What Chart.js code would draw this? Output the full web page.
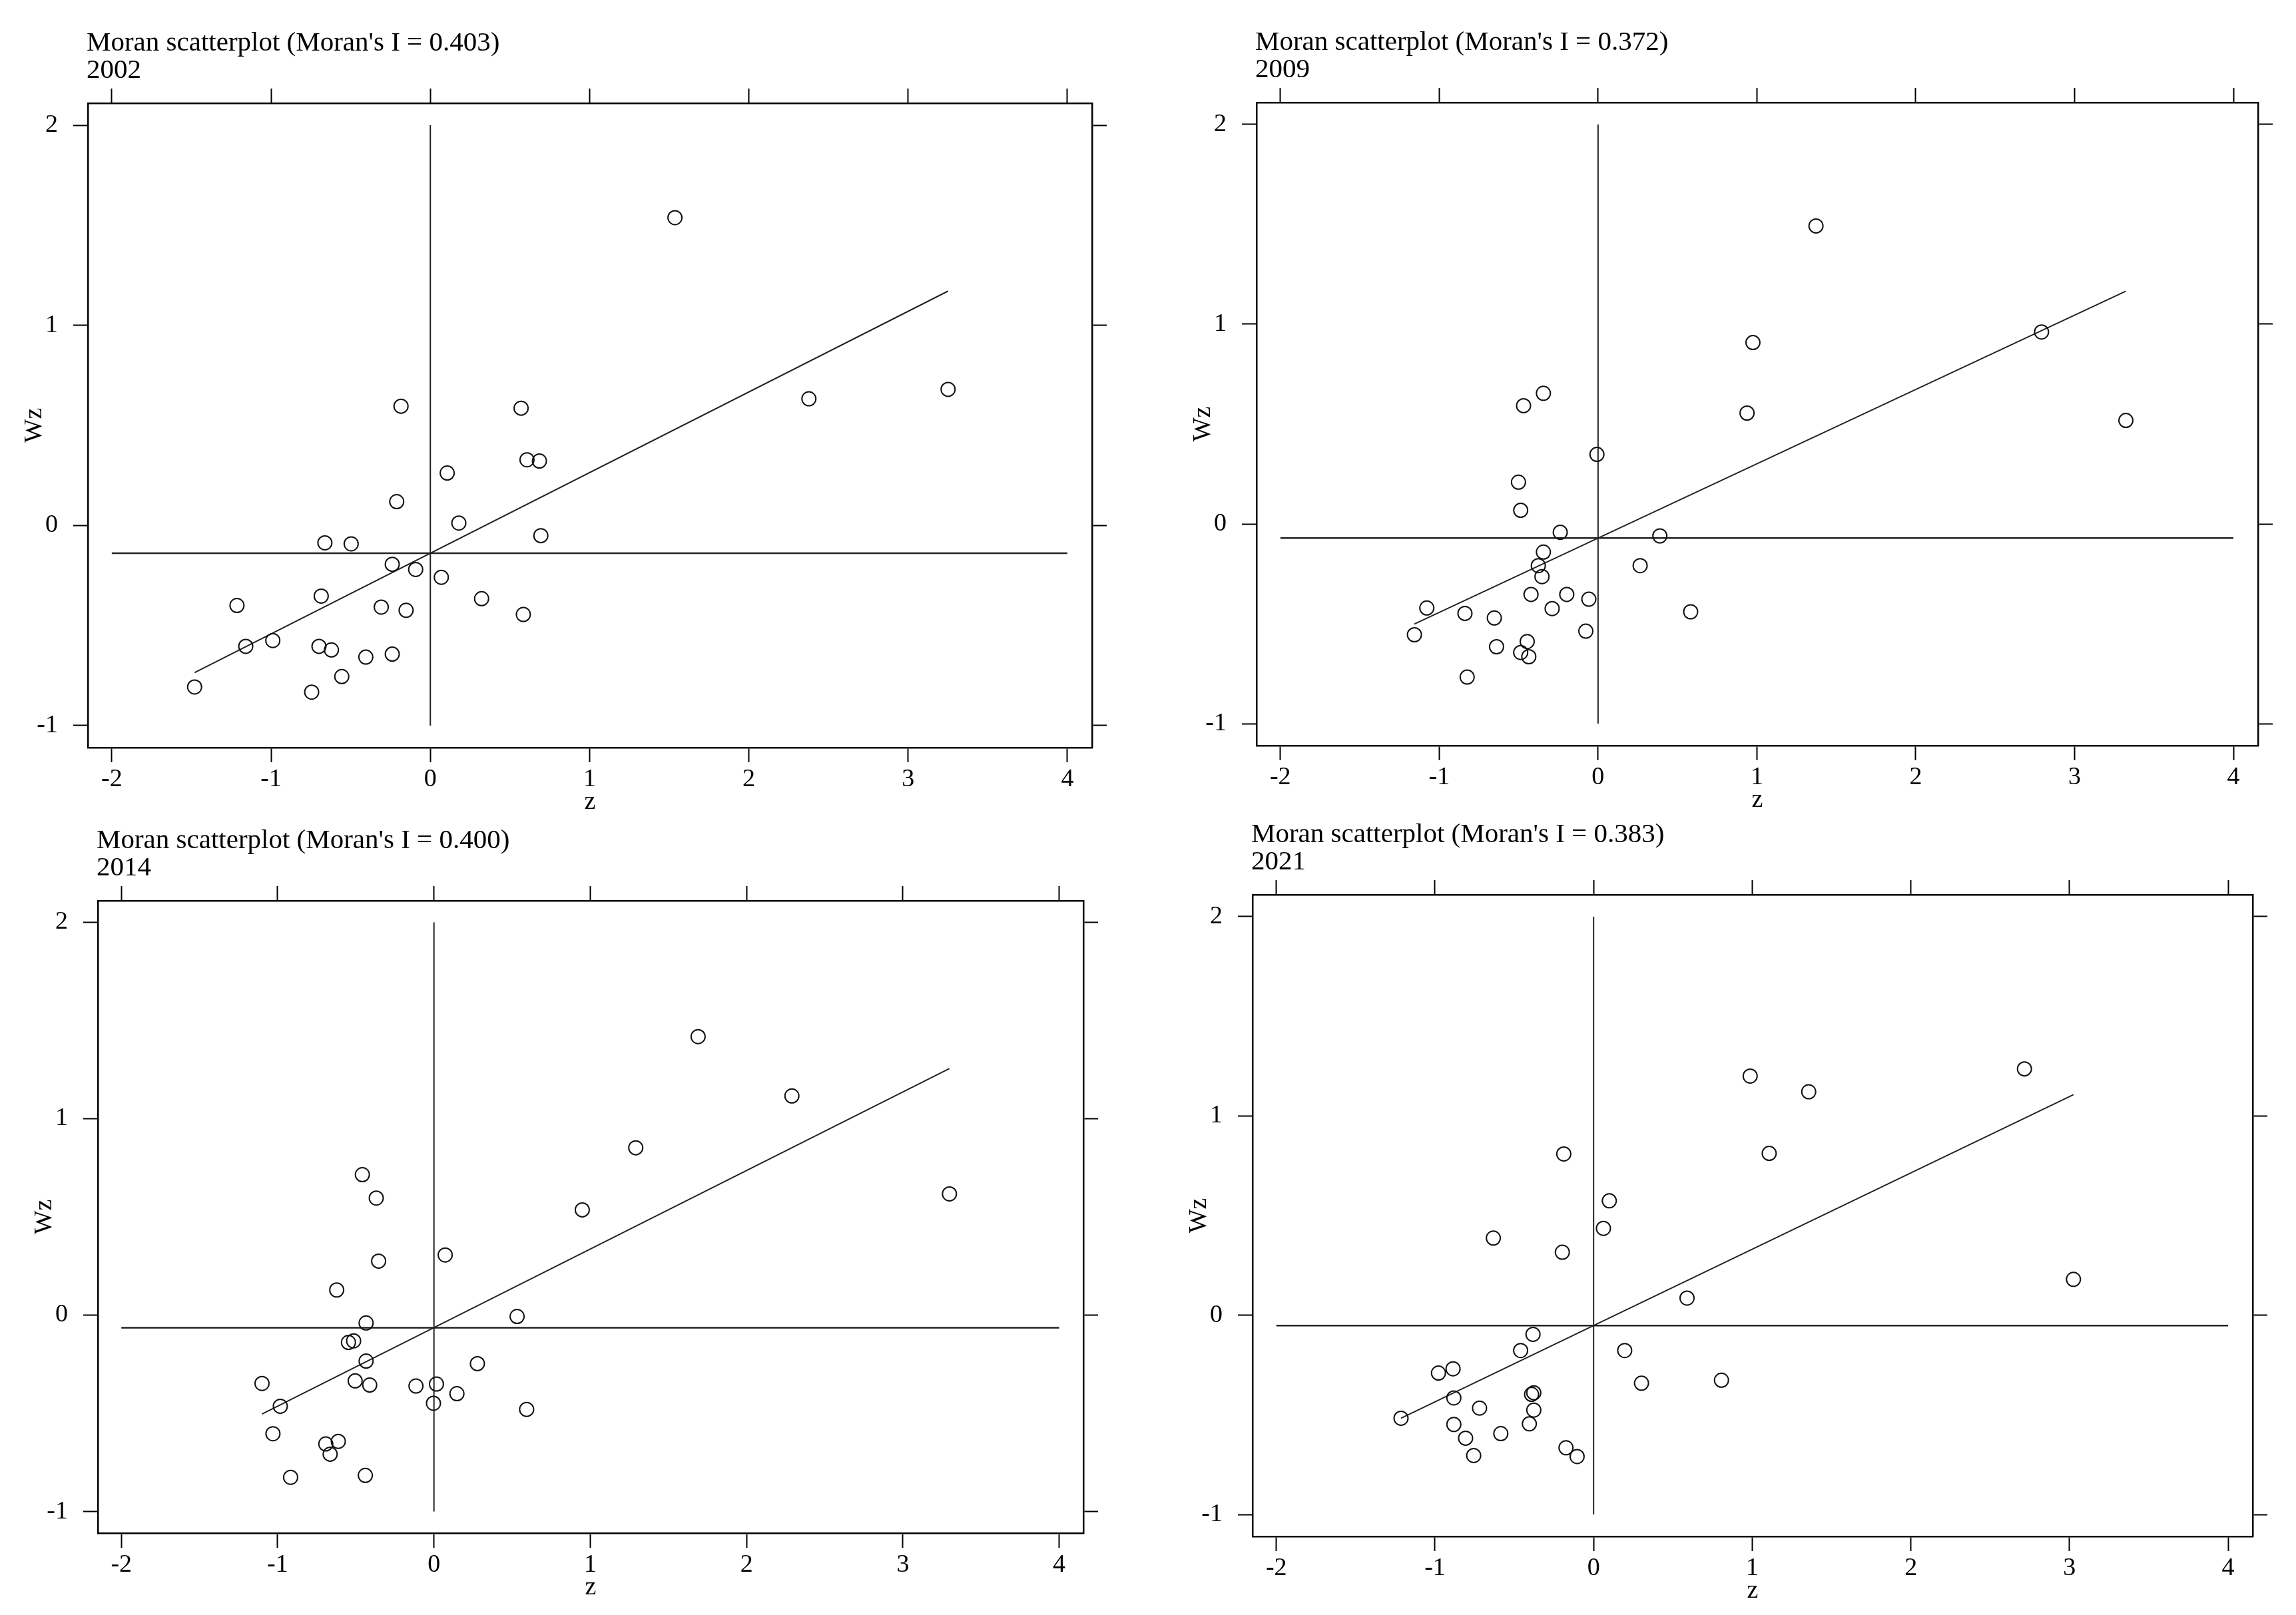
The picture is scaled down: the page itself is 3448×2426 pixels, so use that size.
<!DOCTYPE html>
<html>
<head>
<meta charset="utf-8">
<title>Moran scatterplot</title>
<script src="https://cdn.jsdelivr.net/npm/chart.js@4.4.1/dist/chart.umd.min.js"></script>
<style>
    html, body { margin: 0; padding: 0; background: #fff; overflow: hidden; }
    body { width: 3448px; height: 2426px; position: relative; }
    canvas { position: absolute; }
</style>
</head>
<body>
<script>
// Годы и индекс Морана
const years = ['2002', '2009', '2014', '2021'];
const moranI = [0.403, 0.372, 0.400, 0.383];
const meanWz = [-0.139, -0.071, -0.064, -0.052];

// Деления осей
const xTicks = [-2, -1, 0, 1, 2, 3, 4];
const yTicks = [-1, 0, 1, 2];

// 2002
const z2002 = [1.536, -0.184, 0.570, 2.377, 3.251, 0.607, 0.685, 0.106, -0.211, 0.179, 0.694,
    -0.662, -0.497, -0.239, -0.092, 0.069, -0.685, 0.322, -1.214, -0.308, -0.152, 0.584,
    -0.989, -1.159, -0.699, -0.621, -0.239, -0.405, -0.556, -1.480, -0.745];
const wz2002 = [1.538, 0.596, 0.586, 0.633, 0.680, 0.328, 0.322, 0.262, 0.119, 0.012, -0.051,
    -0.087, -0.092, -0.194, -0.220, -0.259, -0.353, -0.366, -0.400, -0.408, -0.424, -0.445,
    -0.575, -0.604, -0.604, -0.622, -0.643, -0.658, -0.755, -0.807, -0.833];

// 2009
const z2009 = [1.372, 2.792, 0.975, -0.344, -0.469, 0.938, 3.323, -0.007, -0.501, -0.487, -0.238,
    0.389, -0.344, -0.376, 0.265, -0.353, -0.422, -0.197, -0.058, -1.078, -0.289, 0.583,
    -0.838, -0.653, -0.077, -1.156, -0.446, -0.639, -0.487, -0.436, -0.824];
const wz2009 = [1.492, 0.961, 0.908, 0.654, 0.592, 0.555, 0.518, 0.348, 0.209, 0.068, -0.042,
    -0.060, -0.141, -0.209, -0.209, -0.264, -0.353, -0.353, -0.377, -0.421, -0.424, -0.440,
    -0.448, -0.471, -0.537, -0.555, -0.589, -0.615, -0.644, -0.665, -0.767];

// 2014
const z2014 = [1.690, 2.290, 1.291, -0.458, -0.369, 3.298, 0.949, 0.072, -0.354, -0.622, 0.532,
    -0.434, -0.547, -0.514, -0.434, 0.278, -1.100, -0.504, -0.411, -0.115, 0.016, 0.147,
    -0.983, -0.003, 0.593, -1.030, -0.612, -0.692, -0.664, -0.917, -0.439];
const wz2014 = [1.418, 1.116, 0.852, 0.715, 0.596, 0.617, 0.536, 0.306, 0.275, 0.128, -0.007,
    -0.040, -0.139, -0.131, -0.234, -0.247, -0.348, -0.335, -0.356, -0.361, -0.351, -0.400,
    -0.464, -0.449, -0.480, -0.604, -0.643, -0.656, -0.708, -0.826, -0.816];

// 2021
const z2021 = [2.716, 0.987, 1.356, -0.188, 1.107, 0.099, 0.062, -0.632, -0.197, 3.025, 0.589,
    -0.382, -0.460, 0.196, -0.886, -0.978, 0.806, 0.302, -0.881, -0.391, -0.377, -0.719,
    -0.377, -1.214, -0.881, -0.405, -0.585, -0.807, -0.174, -0.756, -0.104];
const wz2021 = [1.236, 1.200, 1.121, 0.809, 0.812, 0.574, 0.436, 0.387, 0.316, 0.180, 0.086,
    -0.096, -0.177, -0.177, -0.269, -0.290, -0.326, -0.341, -0.415, -0.397, -0.389, -0.466,
    -0.476, -0.517, -0.548, -0.545, -0.594, -0.617, -0.665, -0.704, -0.709];

// Положение рамок графиков на странице
const boxes = [
    { left: 132, top: 155, right: 1640, bottom: 1123 },
    { left: 1887, top: 154, right: 3391, bottom: 1120 },
    { left: 147, top: 1353, right: 1627, bottom: 2303 },
    { left: 1881, top: 1344, right: 3383, bottom: 2308 },
];

const serif = '"Liberation Serif", "DejaVu Serif", serif';
const ink = '#000';

// Заголовок над рамкой
const titlePlugin = {
    id: 'panelTitle',
    afterDraw(chart, args, opts) {
        const { ctx, chartArea } = chart;
        ctx.save();
        ctx.fillStyle = ink;
        ctx.font = `41px ${serif}`;
        ctx.textAlign = 'left';
        ctx.textBaseline = 'alphabetic';
        ctx.fillText(opts.lines[0], chartArea.left - 2, chartArea.top - 79);
        ctx.fillText(opts.lines[1], chartArea.left - 2, chartArea.top - 38);
        ctx.restore();
    }
};

function setTicks(list) {
    return (scale) => { scale.ticks = list.map(v => ({ value: v })); };
}

// Формирование одного графика
function renderPanel(i, z, wz) {
    const box = boxes[i];
    const w = box.right - box.left + 132 + 50;
    const h = box.bottom - box.top + 155 + 107;
    const canvas = document.createElement('canvas');
    canvas.width = w;
    canvas.height = h;
    canvas.style.left = `${box.left - 132}px`;
    canvas.style.top = `${box.top - 155}px`;
    canvas.style.width = `${w}px`;
    canvas.style.height = `${h}px`;
    document.body.appendChild(canvas);

    const points = z.map((v, k) => ({ x: v, y: wz[k] }));
    const zMin = Math.min(...z);
    const zMax = Math.max(...z);
    const fit = [zMin, zMax].map(v => ({ x: v, y: meanWz[i] + moranI[i] * v }));
    const hLine = [xTicks[0], xTicks[xTicks.length - 1]].map(v => ({ x: v, y: meanWz[i] }));
    const vLine = [yTicks[0], yTicks[yTicks.length - 1]].map(v => ({ x: 0, y: v }));

    const xMin = -2.15, xMax = 4.155, yMin = -1.11, yMax = 2.11;
    const grid = { drawOnChartArea: false, drawTicks: true, tickLength: 22, tickWidth: 2, tickColor: ink };
    const border = { display: true, color: ink, width: 2.5 };
    const tickFont = { family: serif, size: 38 };

    new Chart(canvas.getContext('2d'), {
        type: 'scatter',
        data: {
            datasets: [
                {
                    label: 'Wz',
                    data: points,
                    pointRadius: 10.5,
                    pointBorderWidth: 2,
                    pointBackgroundColor: 'rgba(0,0,0,0)',
                    pointBorderColor: '#111',
                    showLine: false,
                },
                {
                    label: 'fit',
                    data: fit,
                    showLine: true,
                    pointRadius: 0,
                    borderWidth: 2,
                    borderColor: '#222',
                },
                {
                    label: 'mean Wz',
                    data: hLine,
                    showLine: true,
                    pointRadius: 0,
                    borderWidth: 2.5,
                    borderColor: '#222',
                },
                {
                    label: 'z = 0',
                    data: vLine,
                    showLine: true,
                    pointRadius: 0,
                    borderWidth: 2,
                    borderColor: '#222',
                },
            ]
        },
        plugins: [titlePlugin],
        options: {
            responsive: false,
            devicePixelRatio: 1,
            animation: false,
            layout: { padding: { top: 133, right: 25, left: 0, bottom: 0 } },
            plugins: {
                legend: { display: false },
                tooltip: { enabled: false },
                panelTitle: { lines: [`Moran scatterplot (Moran's I = ${moranI[i].toFixed(3)})`, years[i]] },
            },
            scales: {
                x: {
                    type: 'linear', position: 'bottom', min: xMin, max: xMax,
                    afterBuildTicks: setTicks(xTicks),
                    afterFit: (s) => { s.height = 107; },
                    ticks: { font: tickFont, color: ink, padding: 3, maxRotation: 0 },
                    grid, border,
                    title: { display: true, text: 'z', color: ink, font: { family: serif, size: 38 }, padding: { top: 0, bottom: 2 } },
                },
                x2: {
                    type: 'linear', axis: 'x', position: 'top', min: xMin, max: xMax,
                    afterBuildTicks: setTicks(xTicks),
                    afterFit: (s) => { s.height = 22; },
                    ticks: { display: false },
                    grid, border,
                },
                y: {
                    type: 'linear', position: 'left', min: yMin, max: yMax,
                    afterBuildTicks: setTicks(yTicks),
                    afterFit: (s) => { s.width = 132; },
                    ticks: { font: tickFont, color: ink, padding: 23 },
                    grid, border,
                    title: { display: true, text: 'Wz', color: ink, font: { family: serif, size: 38 }, padding: { top: 29, bottom: 0 } },
                },
                y2: {
                    type: 'linear', axis: 'y', position: 'right', min: yMin, max: yMax,
                    afterBuildTicks: setTicks(yTicks),
                    afterFit: (s) => { s.width = 25; },
                    ticks: { display: false },
                    grid, border,
                },
            },
        }
    });
}

document.addEventListener('DOMContentLoaded', () => {
    renderPanel(0, z2002, wz2002);
    renderPanel(1, z2009, wz2009);
    renderPanel(2, z2014, wz2014);
    renderPanel(3, z2021, wz2021);
});
</script>
</body>
</html>
